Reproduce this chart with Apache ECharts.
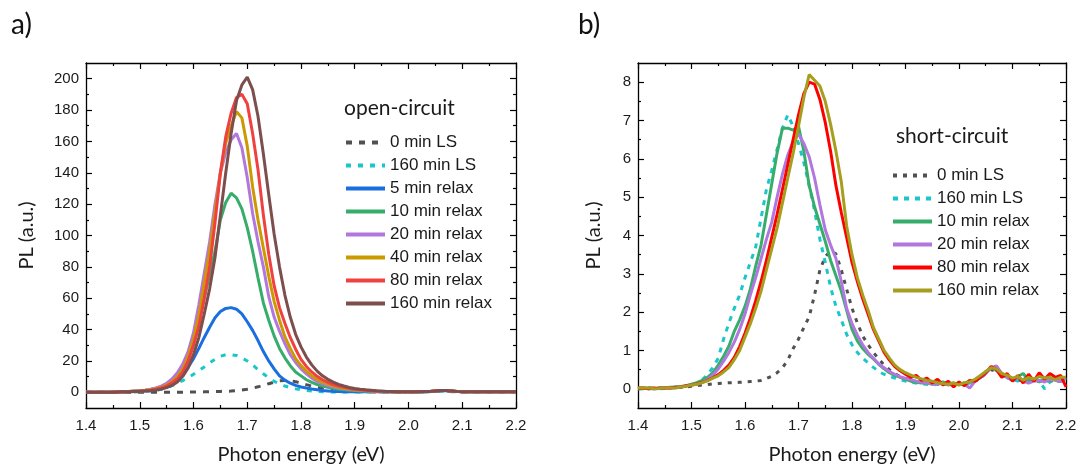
<!DOCTYPE html>
<html><head><meta charset="utf-8">
<script src="https://cdn.jsdelivr.net/npm/echarts@6/dist/echarts.min.js"></script>
<style>html,body{margin:0;padding:0;background:#fff}#c{width:1081px;height:470px}</style>
</head><body><div id="c"></div><script>
// ---------- DATA ----------
const energy = [1.40,1.41,1.42,1.43,1.44,1.45,1.46,1.47,1.48,1.49,
1.50,1.51,1.52,1.53,1.54,1.55,1.56,1.57,1.58,1.59,
1.60,1.61,1.62,1.63,1.64,1.65,1.66,1.67,1.68,1.69,
1.70,1.71,1.72,1.73,1.74,1.75,1.76,1.77,1.78,1.79,
1.80,1.81,1.82,1.83,1.84,1.85,1.86,1.87,1.88,1.89,
1.90,1.91,1.92,1.93,1.94,1.95,1.96,1.97,1.98,1.99,
2.00,2.01,2.02,2.03,2.04,2.05,2.06,2.07,2.08,2.09,
2.10,2.11,2.12,2.13,2.14,2.15,2.16,2.17,2.18,2.19,2.20];

// a) open-circuit
const ocLS0 = [0,0,0,0,0,0,0,0,0,0,
0,0,0,0,0,0,0,0,0,0.1,
0.2,0.2,0.3,0.4,0.5,0.6,0.7,0.8,1.1,1.5,
2,2.7,3.5,4.4,5.5,6.5,7.3,7.6,7.4,6.8,
5.9,4.9,4,3.2,2.5,1.9,1.4,1.1,0.8,0.6,
0.5,0.4,0.3,0.3,0.2,0.2,0.2,0.2,0.2,0.2,
0.2,0.2,0.2,0.3,0.4,0.6,0.8,0.8,0.6,0.4,
0.3,0.3,0.3,0.3,0.3,0.3,0.3,0.3,0.3,0.3,0.3];
const ocLS160 = [0,0,0,0,0,0,0.1,0.1,0.2,0.2,
0.3,0.5,0.8,1.2,1.9,2.8,4.2,5.8,7.5,9.3,
11.5,13.8,16.2,18.8,21,23,24,24,23.5,22,
20,17.5,14.5,11.8,9.2,7,5.4,4,3,2.2,
1.6,1.2,0.9,0.6,0.4,0.3,0.2,0.2,0.2,0.2,
0.2,0.2,0.2,0.2,0.2,0.2,0.2,0.2,0.2,0.2,
0.2,0.2,0.2,0.3,0.4,0.6,0.7,0.6,0.4,0.3,
0.2,0.2,0.2,0.2,0.2,0.2,0.2,0.2,0.2,0.2,0.2];
const ocRelax5 = [0,0,0,0,0.1,0.1,0.2,0.3,0.4,0.5,
0.6,1.0,1.5,2.3,3.3,4.8,6.7,8.8,11.5,16,
21.5,28,35,41.5,47.5,51.5,53.5,54,53,50,
45,39.5,33,26,20,15,10.5,7.8,5.8,4.4,
3.4,2.7,2.1,1.6,1.2,0.9,0.6,0.5,0.4,0.3,
0.3,0.3,0.3,0.3,0.3,0.3,0.3,0.3,0.3,0.3,
0.3,0.3,0.3,0.4,0.5,0.8,1.0,1.0,0.8,0.5,
0.3,0.3,0.3,0.3,0.3,0.3,0.3,0.3,0.3,0.3,0.3];
const ocRelax10 = [0,0,0,0,0.1,0.2,0.3,0.4,0.6,0.8,
1.0,1.3,1.8,2.5,3.6,5.2,7.6,11,16,23,
33,45,60,75,90,110,121,127,124,117,
105,90,73,57,46,36,28,22,17,13,
10.5,8,6.3,5,4,3.2,2.5,2,1.6,1.3,
1.1,0.9,0.8,0.7,0.6,0.5,0.4,0.4,0.4,0.4,
0.4,0.4,0.4,0.5,0.6,0.9,1.2,1.2,0.9,0.6,
0.4,0.3,0.3,0.3,0.3,0.3,0.3,0.3,0.3,0.3,0.3];
const ocRelax20 = [0,0,0,0,0.1,0.2,0.3,0.4,0.6,0.8,
1.0,1.4,2.0,2.8,4.0,5.8,8.5,12.5,18,26,
38,56,76,96,120,140,153,161,165,156,
137,114,96,80,61,48,39,31,24,19,
15,11.8,9,7,5.5,4.3,3.4,2.7,2.2,1.8,
1.5,1.2,1.0,0.8,0.6,0.5,0.4,0.4,0.4,0.4,
0.4,0.4,0.4,0.5,0.6,0.9,1.2,1.2,0.9,0.6,
0.4,0.3,0.3,0.3,0.3,0.3,0.3,0.3,0.3,0.3,0.3];
const ocRelax40 = [0,0,0,0,0.1,0.1,0.2,0.3,0.5,0.7,
0.9,1.2,1.6,2.3,3.2,4.6,6.8,10,15,23,
34,49,70,90,115,140,159,170,179,175,
157,131,110,92,74,58,46,35.5,28,21.5,
17,13.5,10.5,8.2,6.5,5.2,4.1,3.2,2.6,2.1,
1.7,1.4,1.1,0.9,0.7,0.6,0.5,0.4,0.4,0.4,
0.4,0.4,0.4,0.5,0.6,0.9,1.2,1.2,0.9,0.6,
0.4,0.3,0.3,0.3,0.3,0.3,0.3,0.3,0.3,0.3,0.3];
const ocRelax80 = [0,0,0,0,0.1,0.1,0.2,0.3,0.4,0.6,
0.8,1.0,1.4,2.0,2.8,4.0,6.0,8.5,13,20,
30,42,60,80,108,140,163,178,188,190,
184,165,142,113,88,68,54,44,35,27.5,
21,16.5,13,10.2,8,6.3,5,4,3.2,2.5,
2,1.6,1.3,1.0,0.8,0.6,0.5,0.4,0.4,0.4,
0.4,0.4,0.4,0.5,0.6,0.9,1.2,1.2,0.9,0.6,
0.4,0.3,0.3,0.3,0.3,0.3,0.3,0.3,0.3,0.3,0.3];
const ocRelax160 = [0,0,0,0,0.1,0.1,0.2,0.3,0.4,0.5,
0.6,0.8,1.0,1.4,2.0,3.0,4.4,6.6,10.2,15.5,
24,35,50,66,86,113,140,165,186,196,
201,193,176,152,126,101,80,62,48,37,
29,22.5,17.5,13.5,10.5,8.3,6.5,5,4,3.1,
2.5,2,1.6,1.3,1.0,0.8,0.6,0.5,0.4,0.4,
0.4,0.4,0.4,0.5,0.6,0.9,1.2,1.2,0.9,0.6,
0.4,0.3,0.3,0.3,0.3,0.3,0.3,0.3,0.3,0.3,0.3];

// b) short-circuit
const scLS0 = [0.02,0.02,0.02,0.02,0.02,0.02,0.03,0.03,0.04,0.05,
0.07,0.08,0.1,0.11,0.13,0.14,0.15,0.16,0.16,0.17,
0.18,0.19,0.2,0.22,0.27,0.33,0.42,0.55,0.75,1.05,
1.3,1.6,1.88,2.45,3.1,3.45,3.6,3.52,3.1,2.6,
2.1,1.72,1.38,1.15,0.95,0.78,0.62,0.5,0.4,0.32,
0.27,0.22,0.19,0.17,0.15,0.14,0.13,0.12,0.12,0.12,
0.12,0.13,0.15,0.2,0.28,0.4,0.5,0.45,0.35,0.28,
0.25,0.22,0.22,0.2,0.2,0.2,0.2,0.2,0.2,0.2,0.2];
const scLS160 = [0,0.01,0,0.02,0,0.01,0.02,0.03,0.04,0.07,
0.1,0.15,0.23,0.38,0.55,0.8,1.3,1.72,2.1,2.45,
2.9,3.3,3.7,4.45,5.2,5.7,6.25,6.8,7.15,6.85,
6.4,5.9,5.3,4.65,3.9,3.3,2.65,2.15,1.8,1.42,
1.15,0.95,0.8,0.68,0.56,0.45,0.38,0.33,0.28,0.24,
0.2,0.17,0.15,0.13,0.12,0.1,0.12,0.1,0.13,0.12,
0.14,0.12,0.15,0.2,0.3,0.45,0.52,0.48,0.35,0.3,
0.25,0.2,0.3,0.22,0.25,0.2,0.0,0.18,0.25,0.2,0.2];
const scRelax10 = [0,0.01,0.02,0,0.02,0.03,0.04,0.05,0.06,0.08,
0.12,0.16,0.22,0.3,0.42,0.62,0.85,1.12,1.5,1.8,
2.15,2.6,3.2,3.75,4.55,5.35,6.15,6.8,6.8,6.75,
6.85,6.2,5.3,4.75,4.3,3.85,3.35,2.95,2.55,2.05,
1.55,1.25,1.05,0.9,0.78,0.64,0.52,0.42,0.35,0.3,
0.25,0.2,0.17,0.15,0.16,0.12,0.14,0.18,0.13,0.15,
0.12,0.15,0.2,0.22,0.3,0.42,0.55,0.5,0.4,0.3,
0.25,0.32,0.4,0.22,0.25,0.18,0.25,0.2,0.28,0.3,0.25];
const scRelax20 = [0,0.02,0,0,0.01,0.02,0.03,0.04,0.05,0.07,
0.1,0.12,0.17,0.25,0.36,0.52,0.72,0.95,1.22,1.55,
1.95,2.45,2.9,3.4,3.9,4.35,5.0,5.6,6.1,6.45,
6.65,6.4,6.05,5.5,4.8,4.15,3.75,3.4,2.8,2.1,
1.7,1.4,1.15,0.95,0.8,0.65,0.55,0.45,0.38,0.32,
0.27,0.24,0.2,0.18,0.15,0.13,0.12,0.15,0.1,0.12,
0.14,0.12,0.02,0.2,0.3,0.4,0.55,0.6,0.4,0.3,
0.22,0.3,0.2,0.15,0.2,0.22,0.18,0.25,0.22,0.2,0.28];
const scRelax80 = [0.01,0.02,0,0.02,0.01,0.03,0.02,0.04,0.05,0.08,
0.1,0.13,0.17,0.22,0.29,0.37,0.48,0.62,0.82,1.1,
1.45,1.85,2.3,2.8,3.35,3.95,4.55,5.2,5.85,6.5,
7.15,7.7,8.0,7.95,7.55,6.95,6.2,5.3,4.6,3.95,
3.3,2.8,2.35,1.95,1.55,1.25,0.95,0.75,0.58,0.47,
0.38,0.3,0.35,0.22,0.28,0.15,0.25,0.1,0.2,0.05,
0.18,0.08,0.22,0.2,0.3,0.42,0.58,0.5,0.3,0.4,
0.2,0.35,0.15,0.38,0.2,0.42,0.25,0.4,0.3,0.35,0.05];
const scRelax160 = [0.02,0.03,0.02,0,0.01,0.03,0.03,0.02,0.05,0.07,
0.1,0.12,0.16,0.21,0.28,0.34,0.44,0.56,0.76,1.0,
1.35,1.7,2.1,2.55,3.1,3.65,4.2,4.85,5.5,6.15,
6.85,7.6,8.2,8.05,7.9,7.5,6.9,6.2,5.4,4.25,
3.5,2.9,2.45,2.05,1.6,1.3,1.0,0.8,0.62,0.5,
0.42,0.36,0.3,0.26,0.22,0.2,0.16,0.14,0.12,0.15,
0.1,0.16,0.18,0.25,0.35,0.45,0.55,0.52,0.4,0.35,
0.28,0.32,0.22,0.3,0.25,0.32,0.28,0.3,0.24,0.3,0.3];

const seriesNamesA = ['0 min LS','160 min LS','5 min relax','10 min relax','20 min relax','40 min relax','80 min relax','160 min relax'];
const seriesNamesB = ['0 min LS','160 min LS','10 min relax','20 min relax','80 min relax','160 min relax'];
const yMajorA = [0,20,40,60,80,100,120,140,160,180,200];
const yMinorA = [10,30,50,70,90,110,130,150,170,190];
const yMajorB = [0,1,2,3,4,5,6,7,8];
const yMinorB = [0.5,1.5,2.5,3.5,4.5,5.5,6.5,7.5];

// ---------- STYLE ----------
const FT = 'Liberation Sans, Arial, sans-serif';
const FH = 'Lato, sans-serif';
const TXT = '#1a1a1a';
const dataA = [ocLS0, ocLS160, ocRelax5, ocRelax10, ocRelax20, ocRelax40, ocRelax80, ocRelax160];
const dataB = [scLS0, scLS160, scRelax10, scRelax20, scRelax80, scRelax160];
const colorsA = ['#515151','#19C6C9','#1A6FDF','#37AD6B','#B177DE','#CC9900','#F14040','#7D4E4E'];
const colorsB = ['#515151','#19C6C9','#37AD6B','#B177DE','#FF0000','#A69E1E'];
const dashA = [[6,7],[5,7],'solid','solid','solid','solid','solid','solid'];
const dashB = [[4,6],[5,6],'solid','solid','solid','solid'];

function xAx(g, pos, main) {
  return {type:'value', gridIndex:g, position:pos, min:1.4, max:2.2, interval:0.1,
    axisLine:{show:true,onZero:false,lineStyle:{color:'#000',width:1.3}},
    axisTick:{show:true,inside:true,length:6,lineStyle:{color:'#000',width:1.2}},
    minorTick:{show:true,splitNumber:2,length:3,lineStyle:{color:'#000',width:1.2}},
    splitLine:{show:false}, minorSplitLine:{show:false},
    axisLabel:{show:main, formatter:v=>v.toFixed(1), fontSize:15, color:TXT, fontFamily:FT, margin:10},
    name: main ? 'Photon energy (eV)' : '', nameLocation:'middle', nameGap:37,
    nameTextStyle:{fontSize:20, fontFamily:FH, color:TXT}};
}
function yAx(g, pos, min, max, vals, minor, label, nameGap) {
  return {type:'value', gridIndex:g, position:pos, min:min, max:max,
    axisLine:{show:!minor,onZero:false,lineStyle:{color:'#000',width:1.3}},
    axisTick:{show:true,inside:true,length:minor?3:6,customValues:vals,lineStyle:{color:'#000',width:1.2}},
    splitLine:{show:false},
    axisLabel:{show:label, customValues:vals, fontSize:15, color:TXT, fontFamily:FT, margin:7},
    name: label ? 'PL (a.u.)' : '', nameLocation:'middle', nameGap:nameGap||40, nameRotate:90,
    nameTextStyle:{fontSize:20, fontFamily:FH, color:TXT}};
}

const series = [];
dataA.forEach((d,i)=>series.push({name:'a:'+seriesNamesA[i], type:'line', xAxisIndex:0, yAxisIndex:0,
  symbol:'none', data: energy.map((e,k)=>[e,d[k]]),
  lineStyle:{color:colorsA[i], width:3, type:dashA[i], cap:'butt'}, itemStyle:{color:colorsA[i]}}));
dataB.forEach((d,i)=>series.push({name:'b:'+seriesNamesB[i], type:'line', xAxisIndex:2, yAxisIndex:4,
  symbol:'none', data: energy.map((e,k)=>[e,d[k]]),
  lineStyle:{color:colorsB[i], width:3, type:dashB[i], cap:'butt'}, itemStyle:{color:colorsB[i]}}));

const legendCommon = {orient:'vertical', itemWidth:39, itemHeight:14, itemGap:6, padding:0, selectedMode:false,
  itemStyle:{opacity:0}, lineStyle:{width:4},
  textStyle:{fontSize:17, lineHeight:16, fontFamily:FT, color:TXT}, formatter:n=>n.slice(2)};

const option = {
  animation:false,
  backgroundColor:'#fff',
  title:[
    {text:'a)', left:11, top:11, padding:0, textStyle:{fontSize:28, fontWeight:'normal', fontFamily:FH, color:'#111'}},
    {text:'b)', left:578, top:11, padding:0, textStyle:{fontSize:28, fontWeight:'normal', fontFamily:FH, color:'#111'}},
    {text:'open-circuit', left:344, top:98, padding:0, textStyle:{fontSize:21, fontWeight:'normal', fontFamily:FH, color:TXT}},
    {text:'short-circuit', left:896, top:126, padding:0, textStyle:{fontSize:21, fontWeight:'normal', fontFamily:FH, color:TXT}}
  ],
  grid:[
    {left:86, right:565, top:63, bottom:60},
    {left:638, right:15, top:63, bottom:60}
  ],
  xAxis:[xAx(0,'bottom',true), xAx(0,'top',false), xAx(1,'bottom',true), xAx(1,'top',false)],
  yAxis:[
    yAx(0,'left',-10,210,yMajorA,false,true,49), yAx(0,'right',-10,210,yMajorA,false,false),
    yAx(0,'left',-10,210,yMinorA,true,false), yAx(0,'right',-10,210,yMinorA,true,false),
    yAx(1,'left',-0.5,8.5,yMajorB,false,true,34), yAx(1,'right',-0.5,8.5,yMajorB,false,false),
    yAx(1,'left',-0.5,8.5,yMinorB,true,false), yAx(1,'right',-0.5,8.5,yMinorB,true,false)
  ],
  legend:[
    Object.assign({}, legendCommon, {left:344, top:134, data:seriesNamesA.map(n=>'a:'+n)}),
    Object.assign({}, legendCommon, {left:891, top:167, data:seriesNamesB.map(n=>'b:'+n)})
  ],
  series: series
};
const chart = echarts.init(document.getElementById('c'), null, {renderer:'canvas'});
chart.setOption(option);
</script></body></html>
